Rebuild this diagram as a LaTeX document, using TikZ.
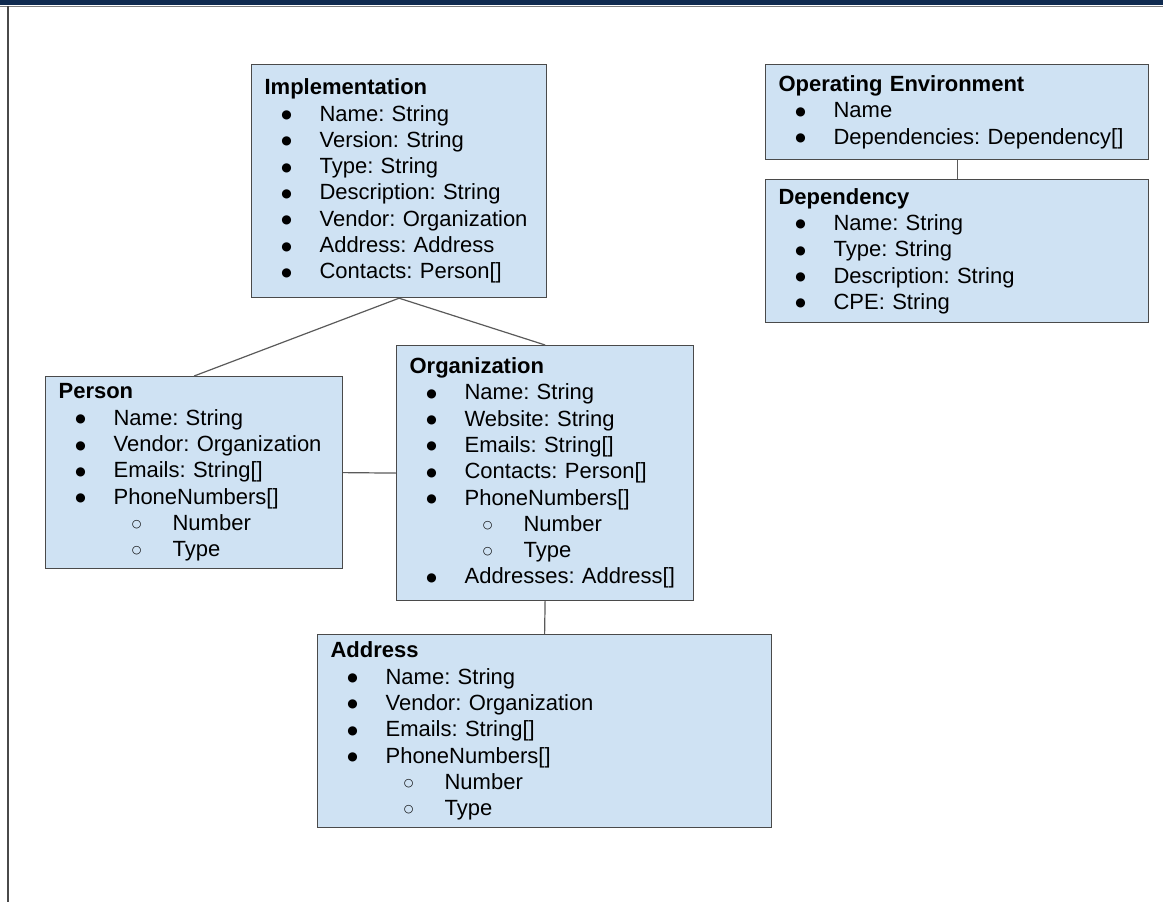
\documentclass[tikz,border=0pt]{standalone}
\usepackage{fontspec}
\setmainfont{Liberation Sans}
\newfontfamily\symfont{DejaVu Sans}
\definecolor{boxblue}{HTML}{CFE2F3}
\definecolor{boxline}{HTML}{4A4A4A}
\definecolor{linkgray}{HTML}{5A5A5A}
\definecolor{barnavy}{HTML}{0F2A4F}
\frenchspacing
\newcommand{\bul}{\raisebox{2.5pt}{\symfont\fontsize{12}{12}\selectfont ●}}
\newcommand{\sbul}{\raisebox{3pt}{\symfont\fontsize{11}{11}\selectfont ○}}
\newcommand{\itm}[1]{\hspace*{22pt}\makebox[0pt]{\bul}\hspace*{33pt}#1}
\newcommand{\sitm}[1]{\hspace*{78pt}\makebox[0pt]{\sbul}\hspace*{36pt}#1}
\begin{document}
\begin{tikzpicture}[x=1pt,y=-1pt,
			cls/.style={draw=boxline,fill=boxblue,line width=1.2pt,anchor=north west,
				align=left,inner xsep=13pt,inner ysep=0pt,
				font=\fontsize{22}{26.3}\selectfont},
			link/.style={draw=linkgray,line width=1.2pt}]
			\useasboundingbox (0,0) rectangle (1163,902);
			
			% Frame
			\fill[barnavy] (0,0) rectangle (1163,5);
			\draw[gray,line width=1.5pt] (0,6.5) -- (1163,6.5);
			\draw[boxline,line width=2pt] (8,6) -- (8,902);
			
			% Implementation
			\node[cls,text width=269pt,minimum height=233pt] (impl) at (251,64) {\textbf{Implementation}\\
				\itm{Name: String}\\
				\itm{Version: String}\\
				\itm{Type: String}\\
				\itm{Description: String}\\
				\itm{Vendor: Organization}\\
				\itm{Address: Address}\\
				\itm{Contacts: Person[]}};
			
			% Operating environment and its dependencies
			\node[cls,text width=357pt,minimum height=95pt] (oe) at (765,64) {\textbf{Operating Environment}\\
				\itm{Name}\\
				\itm{Dependencies: Dependency[]}};
			\node[cls,text width=357pt,minimum height=143pt] (dep) at (765,179) {\textbf{Dependency}\\
				\itm{Name: String}\\
				\itm{Type: String}\\
				\itm{Description: String}\\
				\itm{CPE: String}};
			\draw[link] (oe) -- (dep);
			
			% Person
			\node[cls,text width=271pt,minimum height=192pt] (person) at (45,376) {\textbf{Person}\\
				\itm{Name: String}\\
				\itm{Vendor: Organization}\\
				\itm{Emails: String[]}\\
				\itm{PhoneNumbers[]}\\
				\sitm{Number}\\
				\sitm{Type}};
			
			% Organization
			\node[cls,text width=271pt,minimum height=255pt] (org) at (396,345) {\textbf{Organization}\\
				\itm{Name: String}\\
				\itm{Website: String}\\
				\itm{Emails: String[]}\\
				\itm{Contacts: Person[]}\\
				\itm{PhoneNumbers[]}\\
				\sitm{Number}\\
				\sitm{Type}\\
				\itm{Addresses: Address[]}};
			
			% Address
			\node[cls,text width=428pt,minimum height=193pt] (addr) at (317,634) {\textbf{Address}\\
				\itm{Name: String}\\
				\itm{Vendor: Organization}\\
				\itm{Emails: String[]}\\
				\itm{PhoneNumbers[]}\\
				\sitm{Number}\\
				\sitm{Type}};
			
			% Links
			\draw[link] (impl.south) -- (person.north);
			\draw[link] (impl.south) -- (org.north);
			\draw[link] (person.east) -- (org.west);
			\draw[link] (org.south) -- (addr.north);
			
		\end{tikzpicture}
\end{document}
